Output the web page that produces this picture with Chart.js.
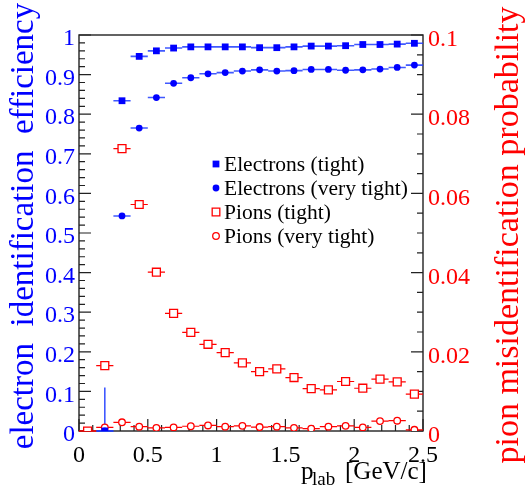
<!DOCTYPE html>
<html>
<head>
<meta charset="utf-8">
<script src="https://cdn.jsdelivr.net/npm/chart.js@4.4.0/dist/chart.umd.min.js"></script>
<style>
  html, body { margin: 0; padding: 0; background: #fff; }
  #wrap { width: 525px; height: 493px; }
</style>
</head>
<body>
<div id="wrap"><canvas id="chart"></canvas></div>
<script>
// bin centres of p_lab (GeV/c), bin width 0.125
const binCenters = [0.0625, 0.1875, 0.3125, 0.4375, 0.5625, 0.6875, 0.8125, 0.9375, 1.0625, 1.1875,
                    1.3125, 1.4375, 1.5625, 1.6875, 1.8125, 1.9375, 2.0625, 2.1875, 2.3125, 2.4375];
const halfBin = 0.0625;

// electron efficiency (left axis)
const elecTight = [null, 0, 0.834, 0.946, 0.960, 0.967, 0.970, 0.970, 0.970, 0.970,
                   0.968, 0.968, 0.970, 0.972, 0.972, 0.973, 0.976, 0.976, 0.977, 0.979];
const elecVeryTight = [null, 0, 0.543, 0.765, 0.842, 0.878, 0.892, 0.902, 0.905, 0.909,
                       0.912, 0.909, 0.910, 0.913, 0.913, 0.911, 0.912, 0.914, 0.918, 0.924];
const elecTightErr = [0, 0.11, 0, 0, 0, 0, 0, 0, 0, 0, 0, 0, 0, 0, 0, 0, 0, 0, 0, 0];

// pion misidentification (right axis)
const pionTight = [0, 0.0165, 0.0713, 0.0572, 0.0401, 0.0297, 0.0249, 0.0219, 0.0198, 0.0172,
                   0.0150, 0.0157, 0.0135, 0.0107, 0.0104, 0.0125, 0.0108, 0.0131, 0.0124, 0.0093];
const pionVeryTight = [0, 0.0009, 0.0022, 0.0011, 0.0008, 0.0009, 0.0012, 0.0014, 0.0011, 0.0013,
                       0.0010, 0.0011, 0.0008, 0.0006, 0.0011, 0.0013, 0.0009, 0.0025, 0.0026, 0.0003];

const xTicks = [0, 0.5, 1, 1.5, 2, 2.5];
const effTicks = [0, 0.1, 0.2, 0.3, 0.4, 0.5, 0.6, 0.7, 0.8, 0.9, 1];
const misTicks = [0, 0.02, 0.04, 0.06, 0.08, 0.1];

const BLUE = '#0000ff';
const RED = '#ff0000';
const FONT = 'Liberation Serif';

function points(arr) {
    return binCenters.map((x, i) => ({ x: x, y: arr[i] }));
}

// inside ticks, frame, error bars
const decor = {
    id: 'decor',
    beforeDatasetsDraw(chart) {
        const ctx = chart.ctx;
        const a = chart.chartArea;
        const sx = chart.scales.x, sy = chart.scales.y, sy1 = chart.scales.y1;
        ctx.save();
        ctx.strokeStyle = '#222';
        ctx.lineWidth = 1.4;
        ctx.strokeRect(a.left, a.top, a.right - a.left, a.bottom - a.top);
        ctx.lineWidth = 1.2;
        ctx.beginPath();
        for (let k = 0; k <= 25; k++) {
            const px = sx.getPixelForValue(k * 0.1);
            const len = k % 5 === 0 ? 12 : 6;
            ctx.moveTo(px, a.bottom); ctx.lineTo(px, a.bottom - len);
        }
        for (let k = 0; k <= 50; k++) {
            const py = sy.getPixelForValue(k * 0.02);
            const len = k % 5 === 0 ? 12 : 6;
            ctx.moveTo(a.left, py); ctx.lineTo(a.left + len, py);
        }
        for (let k = 0; k <= 20; k++) {
            const py = sy1.getPixelForValue(k * 0.005);
            const len = k % 4 === 0 ? 12 : 6;
            ctx.moveTo(a.right, py); ctx.lineTo(a.right - len, py);
        }
        ctx.stroke();

        // error bars
        chart.data.datasets.forEach((ds) => {
            const ys = chart.scales[ds.yAxisID];
            ctx.strokeStyle = ds.errColor;
            ctx.lineWidth = ds.errWidth;
            ctx.beginPath();
            ds.data.forEach((p, i) => {
                if (p.y === null) return;
                const py = ys.getPixelForValue(p.y);
                ctx.moveTo(sx.getPixelForValue(p.x - halfBin), py);
                ctx.lineTo(sx.getPixelForValue(p.x + halfBin), py);
                if (ds.yErr && ds.yErr[i] > 0) {
                    const px = sx.getPixelForValue(p.x);
                    ctx.moveTo(px, ys.getPixelForValue(Math.max(0, p.y - ds.yErr[i])));
                    ctx.lineTo(px, ys.getPixelForValue(p.y + ds.yErr[i]));
                }
            });
            ctx.stroke();
        });
        ctx.restore();
    },
    afterDraw(chart) {
        const ctx = chart.ctx;
        ctx.save();
        // legend
        const rows = [164, 188, 212, 236];
        chart.data.datasets.forEach((ds, i) => {
            ctx.fillStyle = ds.backgroundColor;
            ctx.strokeStyle = ds.borderColor;
            ctx.lineWidth = ds.borderWidth;
            Chart.helpers.drawPoint(ctx, {
                pointStyle: ds.pointStyle, radius: ds.legendRadius, rotation: 0, borderWidth: ds.borderWidth
            }, 216, rows[i]);
            ctx.fillStyle = '#000';
            ctx.font = '21.5px "' + FONT + '"';
            ctx.textBaseline = 'middle';
            ctx.textAlign = 'left';
            ctx.fillText(ds.label, 224, rows[i] + 1);
        });

        // axis titles
        ctx.textAlign = 'center';
        ctx.textBaseline = 'alphabetic';
        ctx.font = '33px "' + FONT + '"';
        ctx.save();
        ctx.translate(33, 226);
        ctx.rotate(-Math.PI / 2);
        ctx.fillStyle = BLUE;
        ctx.fillText('electron  identification  efficiency', 0, 0);
        ctx.restore();

        ctx.font = '34px "' + FONT + '"';
        ctx.save();
        ctx.translate(518, 235);
        ctx.rotate(-Math.PI / 2);
        ctx.fillStyle = RED;
        ctx.fillText('pion misidentification probability', 0, 0);
        ctx.restore();

        ctx.fillStyle = '#000';
        ctx.textAlign = 'left';
        ctx.font = '25px "' + FONT + '"';
        ctx.fillText('p', 301, 479);
        ctx.font = '19px "' + FONT + '"';
        ctx.fillText('lab', 312, 485);
        ctx.font = '25px "' + FONT + '"';
        ctx.fillText('[GeV/c]', 345, 479);
        ctx.restore();
    }
};

new Chart(document.getElementById('chart'), {
    type: 'scatter',
    data: {
        datasets: [
            {
                label: 'Electrons (tight)',
                data: points(elecTight),
                yErr: elecTightErr,
                yAxisID: 'y',
                pointStyle: 'rect',
                pointRadius: 4.8,
                legendRadius: 4.8,
                backgroundColor: BLUE,
                borderColor: BLUE,
                borderWidth: 0,
                errColor: 'rgba(30,60,255,0.85)',
                errWidth: 1.6
            },
            {
                label: 'Electrons (very tight)',
                data: points(elecVeryTight),
                yAxisID: 'y',
                pointStyle: 'circle',
                pointRadius: 3.4,
                legendRadius: 3.4,
                backgroundColor: BLUE,
                borderColor: BLUE,
                borderWidth: 0,
                errColor: 'rgba(30,60,255,0.85)',
                errWidth: 1.6
            },
            {
                label: 'Pions (tight)',
                data: points(pionTight),
                yAxisID: 'y1',
                pointStyle: 'rect',
                pointRadius: 5.6,
                legendRadius: 5.4,
                backgroundColor: '#fff',
                borderColor: RED,
                borderWidth: 1.3,
                errColor: RED,
                errWidth: 1.2
            },
            {
                label: 'Pions (very tight)',
                data: points(pionVeryTight),
                yAxisID: 'y1',
                pointStyle: 'circle',
                pointRadius: 3.3,
                legendRadius: 3.3,
                backgroundColor: '#fff',
                borderColor: RED,
                borderWidth: 1.3,
                errColor: RED,
                errWidth: 1.2
            }
        ]
    },
    options: {
        responsive: true,
        maintainAspectRatio: false,
        animation: false,
        layout: { padding: { top: 35, left: 0, right: 0, bottom: 0 } },
        plugins: {
            legend: { display: false },
            tooltip: { enabled: false }
        },
        scales: {
            x: {
                type: 'linear',
                min: 0,
                max: 2.5,
                afterFit: s => { s.height = 62; },
                afterBuildTicks: s => { s.ticks = xTicks.map(v => ({ value: v })); },
                grid: { display: false, drawTicks: false },
                border: { display: false },
                ticks: {
                    color: '#000',
                    padding: 10,
                    maxRotation: 0,
                    font: { family: FONT, size: 24 },
                    callback: v => String(+v.toFixed(2))
                }
            },
            y: {
                position: 'left',
                min: 0,
                max: 1,
                afterFit: s => { s.width = 79; },
                afterBuildTicks: s => { s.ticks = effTicks.map(v => ({ value: v })); },
                grid: { display: false, drawTicks: false },
                border: { display: false },
                ticks: {
                    color: BLUE,
                    padding: 4,
                    labelOffset: 4,
                    font: { family: FONT, size: 24 },
                    callback: v => String(+v.toFixed(2))
                }
            },
            y1: {
                position: 'right',
                min: 0,
                max: 0.1,
                afterFit: s => { s.width = 102; },
                afterBuildTicks: s => { s.ticks = misTicks.map(v => ({ value: v })); },
                grid: { display: false, drawTicks: false },
                border: { display: false },
                ticks: {
                    color: RED,
                    padding: 5,
                    labelOffset: 5,
                    font: { family: FONT, size: 24 },
                    callback: v => String(+v.toFixed(3))
                }
            }
        }
    },
    plugins: [decor]
});
</script>
</body>
</html>
